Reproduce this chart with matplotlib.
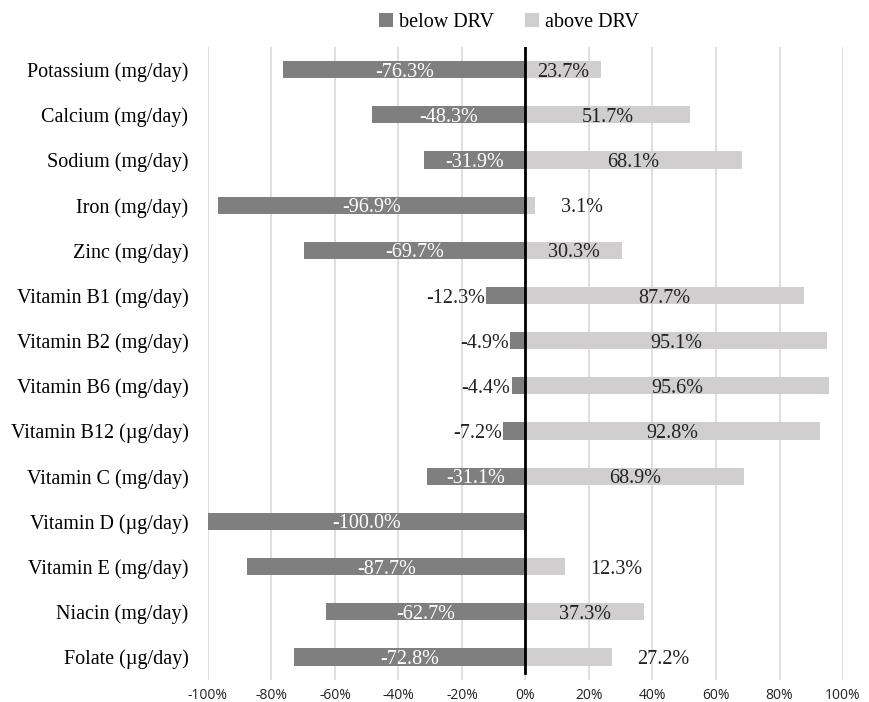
import numpy as np
import matplotlib
matplotlib.use("Agg")
import matplotlib.pyplot as plt
from matplotlib.ticker import FuncFormatter

plt.rcParams['font.family'] = ['Liberation Serif', 'DejaVu Serif']

nutrients = ["Potassium (mg/day)", "Calcium (mg/day)", "Sodium (mg/day)", "Iron (mg/day)",
             "Zinc (mg/day)", "Vitamin B1 (mg/day)", "Vitamin B2 (mg/day)", "Vitamin B6 (mg/day)",
             "Vitamin B12 (\u00b5g/day)", "Vitamin C (mg/day)", "Vitamin D (\u00b5g/day)",
             "Vitamin E (mg/day)", "Niacin (mg/day)", "Folate (\u00b5g/day)"]
below = [-76.3, -48.3, -31.9, -96.9, -69.7, -12.3, -4.9, -4.4, -7.2, -31.1, -100.0, -87.7, -62.7, -72.8]
above = [23.7, 51.7, 68.1, 3.1, 30.3, 87.7, 95.1, 95.6, 92.8, 68.9, 0.0, 12.3, 37.3, 27.2]
xticks = [-100, -80, -60, -40, -20, 0, 20, 40, 60, 80, 100]

# labels that sit outside their bar in the original
outside_above = ["Iron (mg/day)", "Vitamin E (mg/day)", "Folate (\u00b5g/day)"]

dark = "#7f7f7f"
light = "#d0cece"
fs = 14.5

fig = plt.figure(figsize=(8.7, 7.02), dpi=100)
ax = fig.add_axes([0.239, 0.032, 0.730, 0.901])

y = np.arange(len(nutrients))
ax.barh(y, below, height=0.38, color=dark, label="below DRV", zorder=2)
ax.barh(y, above, height=0.38, color=light, label="above DRV", zorder=2)

for i, name in enumerate(nutrients):
    b = below[i]
    if b <= -15:
        ax.text(b / 2, i, f"{b:.1f}%", ha="center", va="center_baseline", color="white", fontsize=fs, zorder=3)
    else:
        ax.text(b - 0.3, i, f"{b:.1f}%", ha="right", va="center_baseline", color="#222222", fontsize=fs, zorder=3)
    a = above[i]
    if a <= 0:
        continue
    if name in outside_above:
        ax.text(a + 8, i, f"{a:.1f}%", ha="left", va="center_baseline", color="#222222", fontsize=fs, zorder=3)
    else:
        ax.text(a / 2, i, f"{a:.1f}%", ha="center", va="center_baseline", color="#222222", fontsize=fs, zorder=3)

ax.axvline(0, color="black", lw=2, ymin=0.01, ymax=1.0, zorder=4)

ax.set_xlim(-100, 100)
ax.set_ylim(len(nutrients) - 0.5, -0.5)
ax.set_xticks(xticks)
ax.xaxis.set_major_formatter(FuncFormatter(lambda v, p: f"{v:.0f}%"))
for t in ax.get_xticklabels():
    t.set_fontfamily(['Open Sans', 'DejaVu Sans'])
ax.set_yticks(y)
ax.set_yticklabels(nutrients, fontsize=fs)
ax.tick_params(axis="x", labelsize=10, length=0, pad=6, labelcolor="#222222")
ax.tick_params(axis="y", length=0, pad=14)
ax.grid(axis="x", color="#d9d9d9", lw=1.2, zorder=0)
for s in ax.spines.values():
    s.set_visible(False)

fig.legend(loc="center", bbox_to_anchor=(0.585, 0.968), ncol=2, frameon=False, fontsize=fs,
           handlelength=0.7, handleheight=0.7, handletextpad=0.3, columnspacing=1.5)

fig.savefig("out.png", dpi=100)
